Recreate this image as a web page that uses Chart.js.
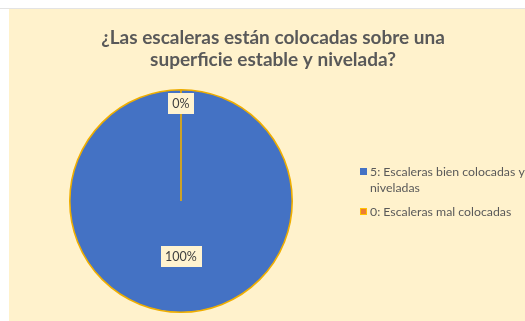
<!DOCTYPE html>
<html lang="es">
<head>
<meta charset="utf-8">
<script src="https://cdn.jsdelivr.net/npm/chart.js@4.4.0/dist/chart.umd.min.js"></script>
<style>
  html, body { margin: 0; padding: 0; background: #fff; }
  body { width: 525px; height: 321px; position: relative; overflow: hidden; }
  #linea { position: absolute; left: 0; top: 8px; width: 525px; height: 1px; background: #E3E3E3; }
  #marco { position: absolute; left: 9px; top: 9px; width: 516px; height: 312px; background: #FFF2CC; }
</style>
</head>
<body>
<div id="linea"></div>
<div id="marco"><canvas id="grafico" width="516" height="312"></canvas></div>
<script>
// Datos del gráfico
const titulo = ['¿Las escaleras están colocadas sobre una', 'superficie estable y nivelada?'];
const categorias = ['5: Escaleras bien colocadas y niveladas', '0: Escaleras mal colocadas'];
const valores = [100, 0];
const colores = ['#4472C4', '#ED7D31'];

const fuente = 'Lato, "Open Sans", sans-serif';

function partirTexto(ctx, texto, ancho) {
  const palabras = texto.split(' ');
  const lineas = [];
  let actual = '';
  palabras.forEach(p => {
    const prueba = actual ? actual + ' ' + p : p;
    if (ctx.measureText(prueba).width > ancho && actual) {
      lineas.push(actual);
      actual = p;
    } else {
      actual = prueba;
    }
  });
  if (actual) lineas.push(actual);
  return lineas;
}

// titulo, etiquetas y leyenda dibujadas a mano
const rotulos = {
  id: 'rotulos',
  afterDraw(chart) {
    const ctx = chart.ctx;
    ctx.save();

    // titulo
    ctx.fillStyle = '#595959';
    ctx.font = 'bold 19px ' + fuente;
    ctx.textAlign = 'center';
    ctx.textBaseline = 'middle';
    titulo.forEach((t, i) => ctx.fillText(t, 264, 29 + i * 22));

    // etiquetas de datos
    const meta = chart.getDatasetMeta(0);
    const total = valores.reduce((a, b) => a + b, 0);
    ctx.font = '12.5px ' + fuente;
    meta.data.forEach((arc, i) => {
      const p = arc.getProps(['x', 'y', 'startAngle', 'endAngle', 'outerRadius']);
      const medio = (p.startAngle + p.endAngle) / 2;
      const f = (p.endAngle - p.startAngle) < 0.5 ? 0.88 : 0.5;
      const cx = p.x + Math.cos(medio) * p.outerRadius * f;
      const cy = p.y + Math.sin(medio) * p.outerRadius * f;
      const txt = Math.round(valores[i] / total * 100) + '%';
      const w = ctx.measureText(txt).width + 9;
      const h = 21;
      ctx.fillStyle = '#FFF3D0';
      ctx.fillRect(Math.round(cx - w / 2), Math.round(cy - h / 2), Math.round(w), h);
      ctx.fillStyle = '#404040';
      ctx.fillText(txt, cx, cy + 0.5);
    });

    // leyenda
    ctx.font = '12.3px ' + fuente;
    ctx.textAlign = 'left';
    let y = 163;
    categorias.forEach((c, i) => {
      ctx.fillStyle = colores[i];
      ctx.fillRect(351, y - 4, 7, 7);
      if (i === 1) {
        ctx.strokeStyle = '#FFC000';
        ctx.lineWidth = 1;
        ctx.strokeRect(351.5, y - 3.5, 6, 6);
      }
      ctx.fillStyle = '#595959';
      const lineas = partirTexto(ctx, c, 516 - 361);
      lineas.forEach((l, j) => ctx.fillText(l, 361, y + j * 16));
      y += lineas.length * 16 + 8;
    });

    ctx.restore();
  }
};

new Chart(document.getElementById('grafico'), {
  type: 'pie',
  data: {
    labels: categorias,
    datasets: [{
      data: valores,
      backgroundColor: colores,
      borderColor: '#EFAE00',
      borderWidth: 1.6
    }]
  },
  options: {
    responsive: false,
    animation: false,
    devicePixelRatio: 1,
    layout: { padding: { left: 60, right: 232, top: 80, bottom: 8 } },
    plugins: {
      legend: { display: false },
      title: { display: false },
      tooltip: { enabled: false }
    }
  },
  plugins: [rotulos]
});
</script>
</body>
</html>
